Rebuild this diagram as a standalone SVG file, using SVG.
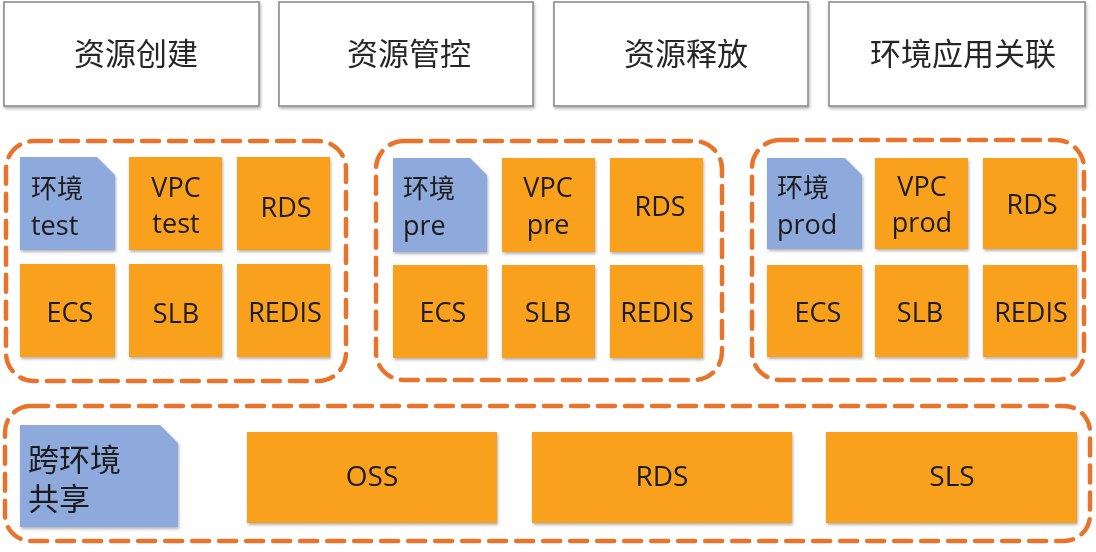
<svg xmlns="http://www.w3.org/2000/svg" width="1096" height="552" viewBox="0 0 1096 552">
<defs>
<filter id="sh" x="-10%" y="-10%" width="130%" height="130%">
<feDropShadow dx="1" dy="2" stdDeviation="1.5" flood-color="#000" flood-opacity="0.3"/>
</filter>
<style>
.top{fill:#fff;stroke:#8c8c8c;stroke-width:1.6}
.grp{fill:none;stroke:#E8742C;stroke-width:4.5;stroke-dasharray:17 10;stroke-linecap:round}
.or{fill:#F9A11B}
.bl{fill:#8EA9DC}
.tt{font-family:"Noto Sans CJK SC","Noto Sans",sans-serif;font-size:31px;fill:#262626;text-anchor:middle}
.lb{font-family:"Open Sans","Noto Sans",sans-serif;font-size:27px;fill:#1a1a1a;text-anchor:middle}
.lbl{font-family:"Open Sans","Noto Sans CJK SC",sans-serif;font-size:27px;fill:#1a1a1a}
.cj{font-family:"Noto Sans CJK SC",sans-serif;font-size:26px;fill:#1a1a1a}
.big{font-family:"Open Sans","Noto Sans",sans-serif;font-size:28px;fill:#1a1a1a;text-anchor:middle}
.cjb{font-family:"Noto Sans CJK SC",sans-serif;font-size:31px;fill:#1a1a1a}
</style>
</defs>

<g id="top-create" filter="url(#sh)"><rect class="top" x="4" y="2" width="255" height="104"/><text class="tt" x="136" y="65">资源创建</text></g>
<g id="top-manage" filter="url(#sh)"><rect class="top" x="279" y="2" width="254" height="104"/><text class="tt" x="409" y="65">资源管控</text></g>
<g id="top-release" filter="url(#sh)"><rect class="top" x="554" y="2" width="254" height="104"/><text class="tt" x="686" y="65">资源释放</text></g>
<g id="top-link" filter="url(#sh)"><rect class="top" x="829" y="2" width="256" height="104"/><text class="tt" x="963" y="65">环境应用关联</text></g>

<g id="group-test">
<rect class="grp" x="6" y="141" width="340" height="240" rx="28"/>
<g id="env-test" filter="url(#sh)"><path class="bl" d="M20 157 H97 L115 175 V250 H20 Z"/><text class="cj" x="31" y="198">环境</text><text class="lbl" x="31" y="235">test</text></g>
<g id="vpc-test" filter="url(#sh)"><rect class="or" x="129" y="157" width="93" height="93"/><text class="lb" x="176" y="197">VPC</text><text class="lb" x="176" y="233">test</text></g>
<g id="rds-test" filter="url(#sh)"><rect class="or" x="237" y="157" width="93" height="93"/><text class="lb" x="286" y="217">RDS</text></g>
<g id="ecs-test" filter="url(#sh)"><rect class="or" x="20" y="264" width="95" height="93"/><text class="lb" x="70" y="322">ECS</text></g>
<g id="slb-test" filter="url(#sh)"><rect class="or" x="129" y="264" width="93" height="93"/><text class="lb" x="176" y="323">SLB</text></g>
<g id="redis-test" filter="url(#sh)"><rect class="or" x="237" y="264" width="93" height="93"/><text class="lb" x="285" y="322">REDIS</text></g>
</g>

<g id="group-pre">
<rect class="grp" x="376" y="141" width="346" height="239" rx="28"/>
<g id="env-pre" filter="url(#sh)"><path class="bl" d="M393 158 H470 L487 175 V252 H393 Z"/><text class="cj" x="403" y="198">环境</text><text class="lbl" x="403" y="235">pre</text></g>
<g id="vpc-pre" filter="url(#sh)"><rect class="or" x="502" y="158" width="93" height="94"/><text class="lb" x="548" y="197">VPC</text><text class="lb" x="548" y="234">pre</text></g>
<g id="rds-pre" filter="url(#sh)"><rect class="or" x="610" y="158" width="93" height="94"/><text class="lb" x="660" y="216">RDS</text></g>
<g id="ecs-pre" filter="url(#sh)"><rect class="or" x="393" y="265" width="94" height="93"/><text class="lb" x="443" y="322">ECS</text></g>
<g id="slb-pre" filter="url(#sh)"><rect class="or" x="502" y="265" width="93" height="93"/><text class="lb" x="548" y="322">SLB</text></g>
<g id="redis-pre" filter="url(#sh)"><rect class="or" x="610" y="265" width="93" height="93"/><text class="lb" x="657" y="322">REDIS</text></g>
</g>

<g id="group-prod">
<rect class="grp" x="752" y="140" width="332" height="240" rx="28"/>
<g id="env-prod" filter="url(#sh)"><path class="bl" d="M767 158 H845 L862 175 V249 H767 Z"/><text class="cj" x="777" y="197">环境</text><text class="lbl" x="777" y="234">prod</text></g>
<g id="vpc-prod" filter="url(#sh)"><rect class="or" x="875" y="158" width="93" height="91"/><text class="lb" x="922" y="196">VPC</text><text class="lb" x="922" y="232">prod</text></g>
<g id="rds-prod" filter="url(#sh)"><rect class="or" x="983" y="158" width="94" height="91"/><text class="lb" x="1032" y="214">RDS</text></g>
<g id="ecs-prod" filter="url(#sh)"><rect class="or" x="767" y="265" width="95" height="92"/><text class="lb" x="818" y="322">ECS</text></g>
<g id="slb-prod" filter="url(#sh)"><rect class="or" x="875" y="265" width="93" height="92"/><text class="lb" x="920" y="322">SLB</text></g>
<g id="redis-prod" filter="url(#sh)"><rect class="or" x="983" y="265" width="94" height="92"/><text class="lb" x="1031" y="322">REDIS</text></g>
</g>

<g id="group-shared">
<rect class="grp" x="5" y="406" width="1085" height="135" rx="26"/>
<g id="env-shared" filter="url(#sh)"><path class="bl" d="M20 425 H160 L178 443 V527 H20 Z"/><text class="cjb" x="28" y="471">跨环境</text><text class="cjb" x="28" y="510">共享</text></g>
<g id="oss" filter="url(#sh)"><rect class="or" x="247" y="432" width="250" height="91"/><text class="big" x="372" y="486">OSS</text></g>
<g id="rds-shared" filter="url(#sh)"><rect class="or" x="532" y="432" width="260" height="91"/><text class="big" x="662" y="486">RDS</text></g>
<g id="sls" filter="url(#sh)"><rect class="or" x="826" y="432" width="251" height="91"/><text class="big" x="952" y="486">SLS</text></g>
</g>

<g id="connectors"></g>
</svg>
